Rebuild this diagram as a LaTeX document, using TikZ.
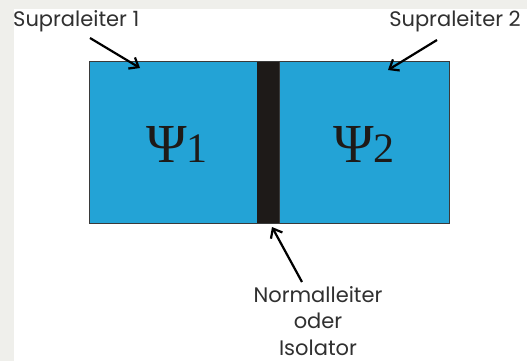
\documentclass[tikz,border=0pt]{standalone}
\usepackage{fontspec}
\setmainfont{Poppins}
\newfontfamily\psifont{Liberation Serif}
\usetikzlibrary{arrows.meta}
\definecolor{bgrey}{HTML}{EFEFEB}
\definecolor{sblue}{HTML}{23A3D6}
\definecolor{barblack}{HTML}{1E1A18}
\definecolor{edgegrey}{HTML}{3A3A3A}
\definecolor{txtgrey}{HTML}{303030}
\tikzset{
  sc/.style={fill=sblue, draw=edgegrey, line width=1pt, inner sep=0pt, outer sep=0pt},
  barbox/.style={fill=barblack, draw=none, inner sep=0pt, outer sep=0pt},
  lbl/.style={font=\fontsize{21}{26.5}\selectfont, text=txtgrey, inner sep=0pt},
  psi/.style={font=\psifont, text=barblack, inner sep=0pt, anchor=base},
  pointer/.style={-{Straight Barb[length=8pt,width=13pt,line width=2.2pt]}, line width=2.2pt, black},
}
\begin{document}
\begin{tikzpicture}[x=1pt,y=-1pt]
\fill[bgrey] (0,0) rectangle (527,361);
\fill[white] (14,9) rectangle (527,361);
\useasboundingbox (0,0) rectangle (527,361);
\node[sc, minimum width=168pt, minimum height=161pt, anchor=north west] (sc1) at (89,62) {};
\node[sc, minimum width=170pt, minimum height=161pt, anchor=north west] (sc2) at (279,62) {};
\node[barbox, minimum width=22pt, minimum height=160.5pt, anchor=north west] (bar) at (257,62.25) {};
\draw[edgegrey, line width=1pt] (sc1.north west) -- (sc2.north east) (sc1.south west) -- (sc2.south east);
\node[psi] (psi1) at (177,162) {\fontsize{55}{55}\selectfont Ψ\fontsize{42}{42}\selectfont 1};
\node[psi] (psi2) at (364,162) {\fontsize{55}{55}\selectfont Ψ\fontsize{42}{42}\selectfont 2};
\node[lbl, anchor=base west] (l1) at (13,27) {Supraleiter 1};
\node[lbl, anchor=base east] (l2) at (521,27) {Supraleiter 2};
\node[lbl, align=center, anchor=base] (l3) at (318,355) {Normalleiter\\oder\\Isolator};
\coordinate (t1) at (90,38);
\coordinate (h1) at (140,68);
\coordinate (t2) at (437,40);
\coordinate (h2) at (388,70);
\coordinate (t3) at (302,282);
\coordinate (h3) at (272,227);
\draw[pointer] (t1) -- (h1);
\draw[pointer] (t2) -- (h2);
\draw[pointer] (t3) -- (h3);
\end{tikzpicture}
\end{document}
